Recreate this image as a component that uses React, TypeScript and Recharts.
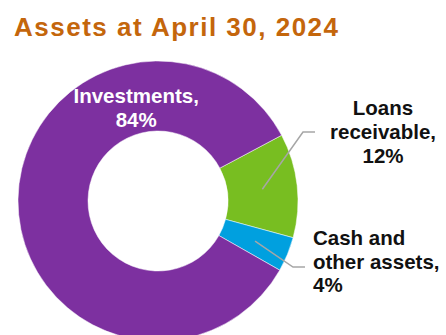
import { PieChart, Pie, Cell } from "recharts"

const categories = ["Loans receivable", "Cash and other assets", "Investments"]
const shares = [12, 4, 84]
// how each category name is broken over lines in the callout
const nameLines = [["Loans", "receivable,"], ["Cash and", "other assets,"], ["Investments,"]]
const colors = ["#78BE21", "#00A0DF", "#7D30A0"]

const data = categories.map((name, i) => ({ name, value: shares[i] }))

const RAD = Math.PI / 180
const font = "'Liberation Sans', Arial, sans-serif"

function polar(cx: number, cy: number, r: number, angle: number) {
  return { x: cx + r * Math.cos(-angle * RAD), y: cy + r * Math.sin(-angle * RAD) }
}

function renderLabel(props: any) {
  const { cx, cy, midAngle, innerRadius, outerRadius, index, value } = props
  const midR = (innerRadius + outerRadius) / 2
  const lines = [...nameLines[index], `${value}%`]

  if (index === 2) {
    // big slice: label sits inside the ring near the top
    const p = polar(cx, cy, midR, 102)
    return (
      <text x={p.x} y={p.y + 5} textAnchor="middle" fill="#fff" fontFamily={font} fontWeight="bold" fontSize={20.5}>
        {lines.map((l, i) => (
          <tspan key={i} x={p.x} dy={i === 0 ? 0 : 24}>{l}</tspan>
        ))}
      </text>
    )
  }

  const start = polar(cx, cy, midR, midAngle)
  if (index === 0) {
    const elbow = { x: cx + 145, y: cy - 69 }
    const end = { x: elbow.x + 12, y: elbow.y }
    const tx = cx + 225
    return (
      <g>
        <polyline
          points={`${start.x},${start.y} ${elbow.x},${elbow.y} ${end.x},${end.y}`}
          fill="none"
          stroke="#A6A6A6"
          strokeWidth={1.5}
        />
        <text x={tx} y={cy - 86} textAnchor="middle" fill="#111" fontFamily={font} fontWeight="bold" fontSize={20.5}>
          {lines.map((l, i) => (
            <tspan key={i} x={tx} dy={i === 0 ? 0 : 24}>{l}</tspan>
          ))}
        </text>
      </g>
    )
  }

  const elbow = { x: cx + 135, y: cy + 66 }
  const end = { x: elbow.x + 12, y: elbow.y }
  const tx = cx + 155
  return (
    <g>
      <polyline
        points={`${start.x},${start.y} ${elbow.x},${elbow.y} ${end.x},${end.y}`}
        fill="none"
        stroke="#A6A6A6"
        strokeWidth={1.5}
      />
      <text x={tx} y={cy + 44} textAnchor="start" fill="#111" fontFamily={font} fontWeight="bold" fontSize={20.5}>
        {lines.map((l, i) => (
          <tspan key={i} x={tx} dy={i === 0 ? 0 : 23.5}>{l}</tspan>
        ))}
      </text>
    </g>
  )
}

export default function App() {
  return (
    <div
      style={{
        position: "absolute",
        left: 0,
        top: 0,
        width: 446,
        height: 335,
        overflow: "hidden",
        background: "#fff",
      }}
    >
      <div
        style={{
          position: "absolute",
          left: 14,
          top: 10,
          fontFamily: font,
          fontWeight: "bold",
          fontSize: 26,
          letterSpacing: 1.5,
          color: "#C4660C",
          lineHeight: "34px",
          whiteSpace: "nowrap",
        }}
      >
        Assets at April 30, 2024
      </div>
      <div style={{ position: "absolute", left: 0, top: 0 }}>
        <PieChart width={446} height={335} margin={{ top: 0, right: 0, bottom: 0, left: 0 }}>
          <Pie
            data={data}
            dataKey="value"
            nameKey="name"
            cx={158}
            cy={201}
            innerRadius={70}
            outerRadius={140}
            startAngle={28}
            endAngle={-332}
            stroke="#fff"
            strokeWidth={0.5}
            label={renderLabel}
            labelLine={false}
            isAnimationActive={false}
          >
            {data.map((d, i) => (
              <Cell key={d.name} fill={colors[i]} />
            ))}
          </Pie>
        </PieChart>
      </div>
    </div>
  )
}
